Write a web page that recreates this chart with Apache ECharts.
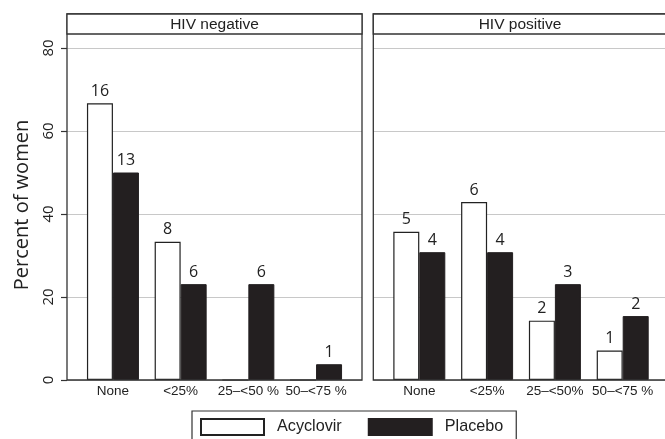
<!DOCTYPE html>
<html>
<head>
<meta charset="utf-8">
<script src="https://cdn.jsdelivr.net/npm/echarts@6/dist/echarts.min.js"></script>
<style>
html,body{margin:0;padding:0;background:#fff;}
#chart{width:665px;height:439px;}
</style>
</head>
<body>
<div id="chart"></div>
<script>
// ---- data ----
const panelTitles = ['HIV negative', 'HIV positive'];
const negCategories = ['None', '<25%', '25\u2013<50 %', '50\u2013<75 %'];
const posCategories = ['None', '<25%', '25\u2013<50%', '50\u2013<75 %'];
const negAcyclovir = [66.7, 33.3, 0, 0];
const negPlacebo = [50.0, 23.1, 23.1, 3.8];
const posAcyclovir = [35.7, 42.9, 14.3, 7.1];
const posPlacebo = [30.8, 30.8, 23.1, 15.4];
const negAcyclovirN = [16, 8, 0, 0];
const negPlaceboN = [13, 6, 6, 1];
const posAcyclovirN = [5, 6, 2, 1];
const posPlaceboN = [4, 4, 3, 2];
const yTicks = [0, 20, 40, 60, 80];

// ---- layout ----
const TOP = 48, BOTTOM_Y = 380, H = BOTTOM_Y - TOP;
const panels = [
  { left: 67, width: 295 },
  { left: 373.3, width: 295.4 }
];
const INSET = 12.1;
const FRAME_TOP = 14, STRIP_H = 20;
const axisFont = 'Liberation Sans';
const numFont = 'Open Sans';

const chart = echarts.init(document.getElementById('chart'), null, { renderer: 'canvas' });

function labelFor(counts) {
  return {
    show: true, position: 'top', distance: 4,
    fontFamily: numFont, fontSize: 16, color: '#222',
    formatter: p => counts[p.dataIndex] > 0 ? String(counts[p.dataIndex]) : ''
  };
}
const acyStyle = { color: '#ffffff', borderColor: '#222', borderWidth: 1.2 };
const plaStyle = { color: '#231f20', borderColor: '#231f20', borderWidth: 1 };

const grids = [], xAxes = [], yAxes = [];
panels.forEach((p, i) => {
  grids.push({ left: p.left, top: TOP, width: p.width, height: H });
});
panels.forEach((p, i) => {
  grids.push({ left: p.left + INSET, top: TOP, width: p.width - 2 * INSET, height: H });
});
// value grids (y-axis + gridlines)
for (let i = 0; i < 2; i++) {
  xAxes.push({ gridIndex: i, type: 'value', show: false, min: 0, max: 1 });
  yAxes.push({
    gridIndex: i, type: 'value', min: yTicks[0], max: yTicks[yTicks.length - 1], interval: 20,
    axisLine: { show: false },
    axisTick: { show: i === 0, length: 6, lineStyle: { color: '#333', width: 1.2 } },
    axisLabel: { show: i === 0, rotate: 90, margin: 11, fontFamily: numFont, fontSize: 15, color: '#222' },
    splitLine: { show: true, lineStyle: { color: '#c8c8c8', width: 1 } }
  });
}
// bar grids
[negCategories, posCategories].forEach((cats, i) => {
  xAxes.push({
    gridIndex: 2 + i, type: 'category', data: cats,
    axisLine: { show: false }, axisTick: { show: false },
    axisLabel: { margin: 4, fontFamily: axisFont, fontSize: 13.5, color: '#222', interval: 0 }
  });
  yAxes.push({ gridIndex: 2 + i, type: 'value', min: 0, max: 80, interval: 20, show: false, splitLine: { show: false } });
});

const series = [
  { name: 'Acyclovir', type: 'bar', xAxisIndex: 2, yAxisIndex: 2, data: negAcyclovir, barWidth: 26, barGap: '0%', itemStyle: acyStyle, label: labelFor(negAcyclovirN) },
  { name: 'Placebo', type: 'bar', xAxisIndex: 2, yAxisIndex: 2, data: negPlacebo, barWidth: 26, barGap: '0%', itemStyle: plaStyle, label: labelFor(negPlaceboN) },
  { name: 'Acyclovir', type: 'bar', xAxisIndex: 3, yAxisIndex: 3, data: posAcyclovir, barWidth: 26, barGap: '0%', itemStyle: acyStyle, label: labelFor(posAcyclovirN) },
  { name: 'Placebo', type: 'bar', xAxisIndex: 3, yAxisIndex: 3, data: posPlacebo, barWidth: 26, barGap: '0%', itemStyle: plaStyle, label: labelFor(posPlaceboN) }
];

const graphics = [];
panels.forEach((p, i) => {
  graphics.push({ type: 'rect', z: 100, silent: true,
    shape: { x: p.left, y: FRAME_TOP, width: p.width, height: BOTTOM_Y - FRAME_TOP },
    style: { fill: null, stroke: '#333', lineWidth: 1.3 } });
  graphics.push({ type: 'rect', z: 100, silent: true,
    shape: { x: p.left, y: FRAME_TOP, width: p.width, height: STRIP_H },
    style: { fill: '#fff', stroke: '#333', lineWidth: 1.3 } });
  graphics.push({ type: 'text', z: 101, silent: true,
    x: p.left + p.width / 2 - (i === 1 ? 1 : 0), y: FRAME_TOP + STRIP_H / 2 + 0.5,
    style: { text: panelTitles[i], fontFamily: axisFont, fontSize: 15.5, fill: '#222', textAlign: 'center', textVerticalAlign: 'middle' } });
});
graphics.push({ type: 'text', z: 101, silent: true, x: 22, y: 205, rotation: Math.PI / 2,
  style: { text: 'Percent of women', fontFamily: numFont, fontSize: 20, fill: '#222', textAlign: 'center', textVerticalAlign: 'middle' } });

chart.setOption({
  animation: false,
  backgroundColor: '#fff',
  grid: grids,
  xAxis: xAxes,
  yAxis: yAxes,
  legend: {
    data: ['Acyclovir', 'Placebo'],
    left: 192, top: 411, orient: 'horizontal',
    padding: [7, 13, 7, 8],
    itemWidth: 63, itemHeight: 16, itemGap: 26,
    icon: 'rect',
    borderColor: '#333', borderWidth: 1.2,
    textStyle: { fontFamily: axisFont, fontSize: 16.2, color: '#222', padding: [0, 0, 0, 8] }
  },
  graphic: graphics,
  series: series
});
</script>
</body>
</html>
